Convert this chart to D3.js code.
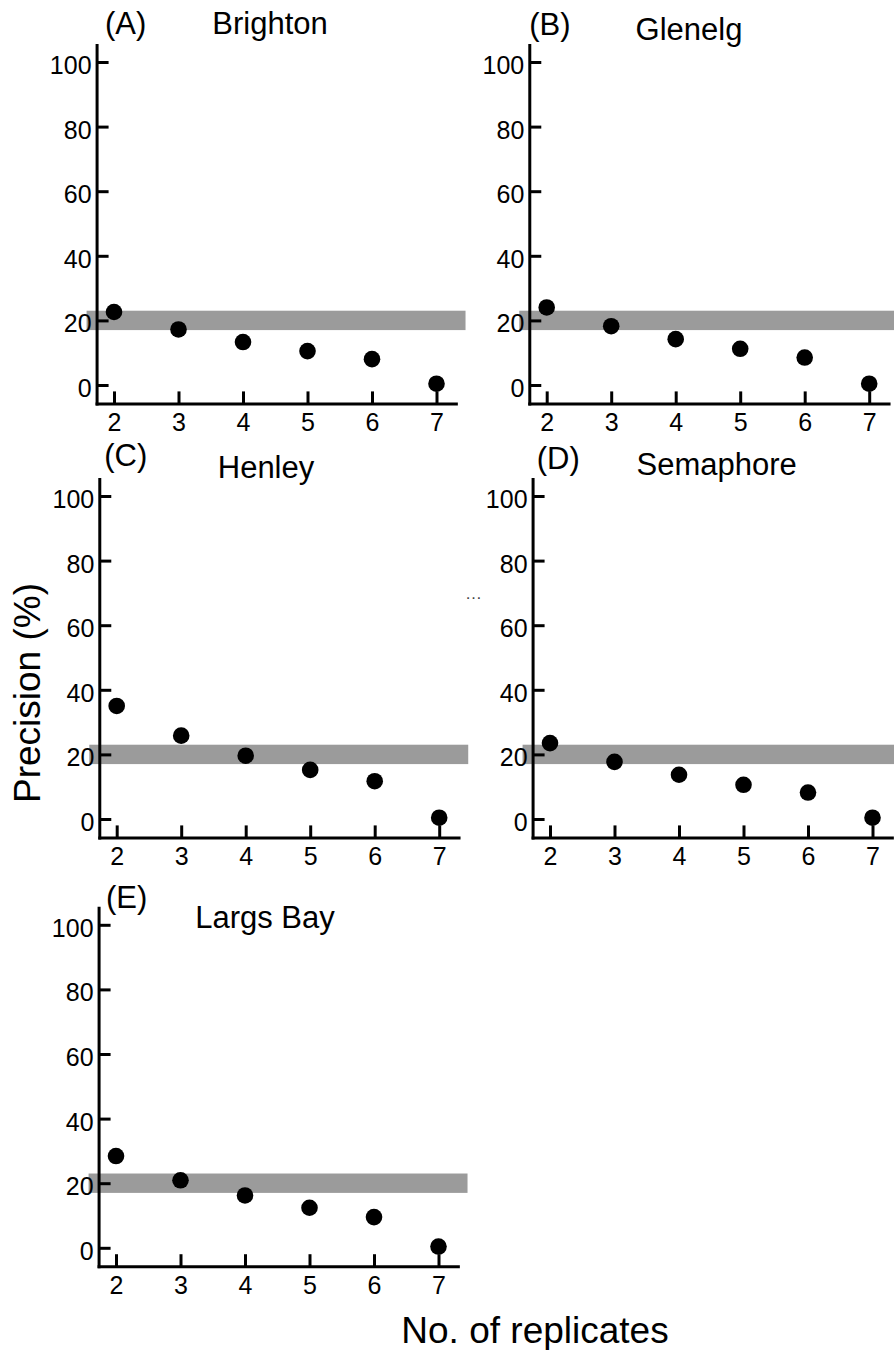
<!DOCTYPE html>
<html>
<head>
<meta charset="utf-8">
<script src="https://cdn.jsdelivr.net/npm/d3@7"></script>
<style>
  body { margin: 0; background: #fff; }
  svg { display: block; font-family: "Liberation Sans", Arial, Helvetica, sans-serif; }
  .axis .domain, .axis line { stroke: #000; stroke-width: 3; }
  .axis .domain { stroke-linecap: square; }
  .axis text { font-size: 25px; fill: #000; font-family: "Liberation Sans", Arial, Helvetica, sans-serif; }
  .panel-letter, .panel-title { font-size: 31px; fill: #000; }
  .axis-title { font-size: 37px; fill: #000; }
</style>
</head>
<body>
<svg id="chart" width="894" height="1350"></svg>
<script>
// Number of replicates on the x axis
const replicates = [2, 3, 4, 5, 6, 7];

// Site names and panel letters
const sites = ["Brighton", "Glenelg", "Henley", "Semaphore", "Largs Bay"];
const panelLetters = ["(A)", "(B)", "(C)", "(D)", "(E)"];

// Precision (%) for each number of replicates, per site
const brighton  = [22.6, 17.2, 13.3, 10.5, 8.0, 0.4];
const glenelg   = [24.0, 18.2, 14.2, 11.2, 8.5, 0.4];
const henley    = [35.0, 25.8, 19.6, 15.2, 11.7, 0.4];
const semaphore = [23.5, 17.7, 13.7, 10.6, 8.2, 0.4];
const largsBay  = [28.4, 20.9, 16.2, 12.4, 9.5, 0.4];

// Axis ticks and the acceptable-precision band
const precisionTicks = [0, 20, 40, 60, 80, 100];
const targetBand = [17, 23];

const siteValues = [brighton, glenelg, henley, semaphore, largsBay];

// Panel placement: pixel position of x = 2 and y = 0, plus label anchors
const panelLayout = [
  { x2: 114,   y0: 385,    letterX: 105,   letterY: 33.5, titleX: 270,   titleY: 33.5 },
  { x2: 546.7, y0: 385,    letterX: 529.3, letterY: 35,   titleX: 689,   titleY: 40 },
  { x2: 116.7, y0: 819,    letterX: 104.3, letterY: 466,  titleX: 266,   titleY: 478 },
  { x2: 550,   y0: 819,    letterX: 536.7, letterY: 469,  titleX: 716.7, titleY: 475 },
  { x2: 116,   y0: 1247.8, letterX: 106,   letterY: 908,  titleX: 265,   titleY: 928 }
];

const pxPerReplicate = 64.5;
const pxPerPercent = 3.23;
const xDomain = [1.73, 7.3];
const yDomain = [-5.7, 105.3];
const bandXDomain = [1.575, 7.45];

const svg = d3.select("#chart");

siteValues.forEach((values, i) => {
  const p = panelLayout[i];
  const x = d3.scaleLinear()
    .domain(xDomain)
    .range([p.x2 + (xDomain[0] - 2) * pxPerReplicate, p.x2 + (xDomain[1] - 2) * pxPerReplicate]);
  const y = d3.scaleLinear()
    .domain(yDomain)
    .range([p.y0 - yDomain[0] * pxPerPercent, p.y0 - yDomain[1] * pxPerPercent]);

  const g = svg.append("g").attr("class", "panel");

  // shaded band
  g.append("rect")
    .attr("x", x(bandXDomain[0]))
    .attr("y", y(targetBand[1]))
    .attr("width", x(bandXDomain[1]) - x(bandXDomain[0]))
    .attr("height", y(targetBand[0]) - y(targetBand[1]))
    .attr("fill", "#9b9b9b");

  // x axis, ticks pointing up into the plot
  g.append("g")
    .attr("class", "axis")
    .attr("transform", `translate(0,${y.range()[0]})`)
    .call(d3.axisBottom(x).tickValues(replicates).tickFormat(d3.format("d"))
      .tickSizeInner(-12).tickSizeOuter(0).tickPadding(10))
    .call(a => a.selectAll("text").attr("dy", "0.71em"));

  // y axis, ticks pointing right into the plot
  g.append("g")
    .attr("class", "axis")
    .attr("transform", `translate(${x.range()[0]},0)`)
    .call(d3.axisLeft(y).tickValues(precisionTicks).tickFormat(d3.format("d"))
      .tickSizeInner(-12).tickSizeOuter(0).tickPadding(5))
    .call(a => a.selectAll("text").attr("dy", "0.46em"));

  // data points
  g.selectAll("circle")
    .data(replicates.map((r, k) => ({ r, v: values[k] })))
    .join("circle")
    .attr("cx", d => x(d.r))
    .attr("cy", d => y(d.v))
    .attr("r", 8.3)
    .attr("fill", "#000");

  g.append("text")
    .attr("class", "panel-letter")
    .attr("x", p.letterX)
    .attr("y", p.letterY)
    .text(panelLetters[i]);

  g.append("text")
    .attr("class", "panel-title")
    .attr("x", p.titleX)
    .attr("y", p.titleY)
    .attr("text-anchor", "middle")
    .text(sites[i]);
});

// shared axis titles
svg.append("text")
  .attr("class", "axis-title")
  .attr("transform", "translate(40,693) rotate(-90)")
  .attr("text-anchor", "middle")
  .text("Precision (%)");

svg.append("text")
  .attr("class", "axis-title")
  .attr("x", 535)
  .attr("y", 1343)
  .attr("text-anchor", "middle")
  .text("No. of replicates");

// small stray ellipsis between the middle panels
svg.append("text")
  .attr("x", 465)
  .attr("y", 599)
  .attr("font-size", 17)
  .attr("fill", "#444")
  .text("…");
</script>
</body>
</html>
